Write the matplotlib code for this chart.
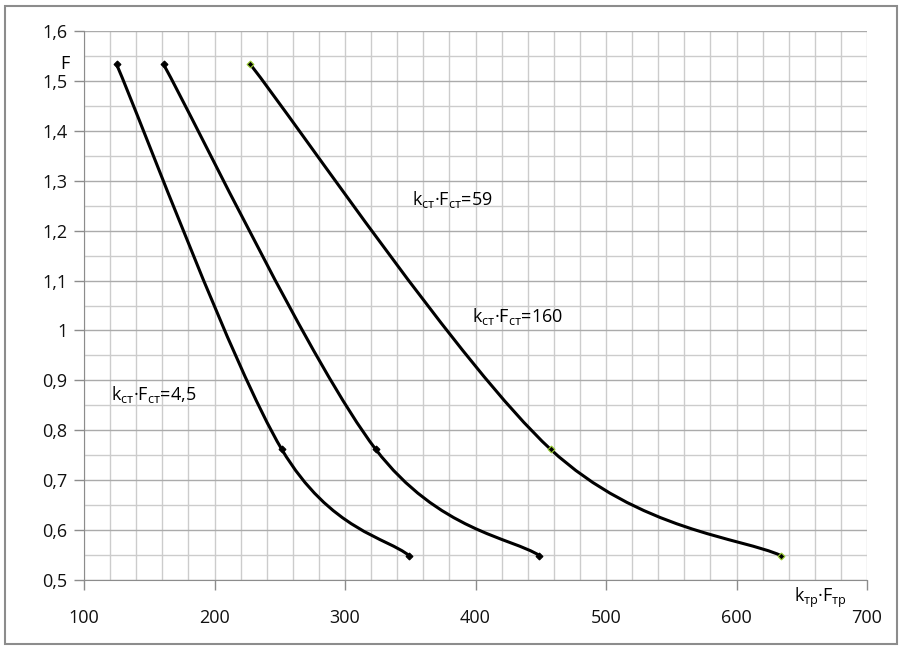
import matplotlib
matplotlib.use("Agg")
import matplotlib.pyplot as plt
from matplotlib.path import Path
from matplotlib.patches import PathPatch, Rectangle
import numpy as np

plt.rcParams['font.family'] = ['Open Sans', 'DejaVu Sans']
plt.rcParams['mathtext.default'] = 'regular'

# curve data
x_45 = [125, 251.5, 349]
y_45 = [1.533, 0.762, 0.549]
x_59 = [161, 323.5, 449]
y_59 = [1.533, 0.762, 0.549]
x_160 = [227.5, 457.5, 634]
y_160 = [1.533, 0.762, 0.549]

curves = [(x_45, y_45, 'black'), (x_59, y_59, 'black'), (x_160, y_160, '#9acd32')]

x_ticks = [100, 200, 300, 400, 500, 600, 700]
y_ticks = [0.5, 0.6, 0.7, 0.8, 0.9, 1.0, 1.1, 1.2, 1.3, 1.4, 1.5, 1.6]
y_labels = ['0,5', '0,6', '0,7', '0,8', '0,9', '1', '1,1', '1,2', '1,3', '1,4', '1,5', '1,6']


def smooth_path(xs, ys):
    # Excel-like smoothed line (Catmull-Rom as cubic Bezier)
    pts = np.column_stack([xs, ys])
    ext = np.vstack([pts[0], pts, pts[-1]])
    verts = [pts[0]]
    codes = [Path.MOVETO]
    for i in range(1, len(ext) - 2):
        p0, p1, p2, p3 = ext[i - 1], ext[i], ext[i + 1], ext[i + 2]
        verts += [p1 + (p2 - p0) / 6, p2 - (p3 - p1) / 6, p2]
        codes += [Path.CURVE4] * 3
    return Path(verts, codes)


fig = plt.figure(figsize=(9.03, 6.49), dpi=100)
ax = fig.add_axes([84 / 903, 1 - 580 / 649, (867 - 84) / 903, (580 - 31) / 649])

ax.set_xlim(100, 700)
ax.set_ylim(0.5, 1.6)
ax.set_xticks(x_ticks)
ax.set_xticklabels([str(v) for v in x_ticks])
ax.set_yticks(y_ticks)
ax.set_yticklabels(y_labels)
ax.set_xticks(np.arange(100, 701, 20), minor=True)
ax.set_yticks(np.arange(0.5, 1.61, 0.05), minor=True)

ax.grid(which='minor', color='#cccccc', lw=1.0)
ax.grid(which='major', axis='y', color='#ababab', lw=1.0)
ax.grid(which='major', axis='x', color='#cccccc', lw=1.0)
ax.set_axisbelow(True)
ax.tick_params(which='minor', length=0)
ax.tick_params(which='major', length=7, width=1, color='#8c8c8c', labelsize=13,
               direction='out', labelcolor='#111111')
ax.tick_params(axis='y', pad=5)
ax.tick_params(axis='x', pad=14)
for s in ['top', 'right']:
    ax.spines[s].set_visible(False)
for s in ['left', 'bottom']:
    ax.spines[s].set_color('#8c8c8c')

for xs, ys, mc in curves:
    ax.add_patch(PathPatch(smooth_path(xs, ys), fill=False, lw=2.2, color='black',
                           capstyle='round', zorder=3))
    ax.plot(xs, ys, ls='none', marker='D', ms=3.5, mfc='black', mec=mc, mew=0.8, zorder=4)

ax.text(351, 1.262, 'k$_{ст}$·F$_{ст}$=59', fontsize=13, va='center')
ax.text(397, 1.028, 'k$_{ст}$·F$_{ст}$=160', fontsize=13, va='center')
ax.text(121, 0.872, 'k$_{ст}$·F$_{ст}$=4,5', fontsize=13, va='center')
ax.text(-0.03, 0.94, 'F', transform=ax.transAxes, fontsize=13, va='center', ha='left')
ax.text(0.907, -0.033, 'k$_{тр}$·F$_{тр}$', transform=ax.transAxes, fontsize=13,
        va='center', ha='left')

fig.patches.append(Rectangle((5 / 903, 5 / 649), 892 / 903, 638 / 649, transform=fig.transFigure,
                             fill=False, edgecolor='#8c8c8c', lw=1.5))

fig.savefig('out.png', dpi=100)
